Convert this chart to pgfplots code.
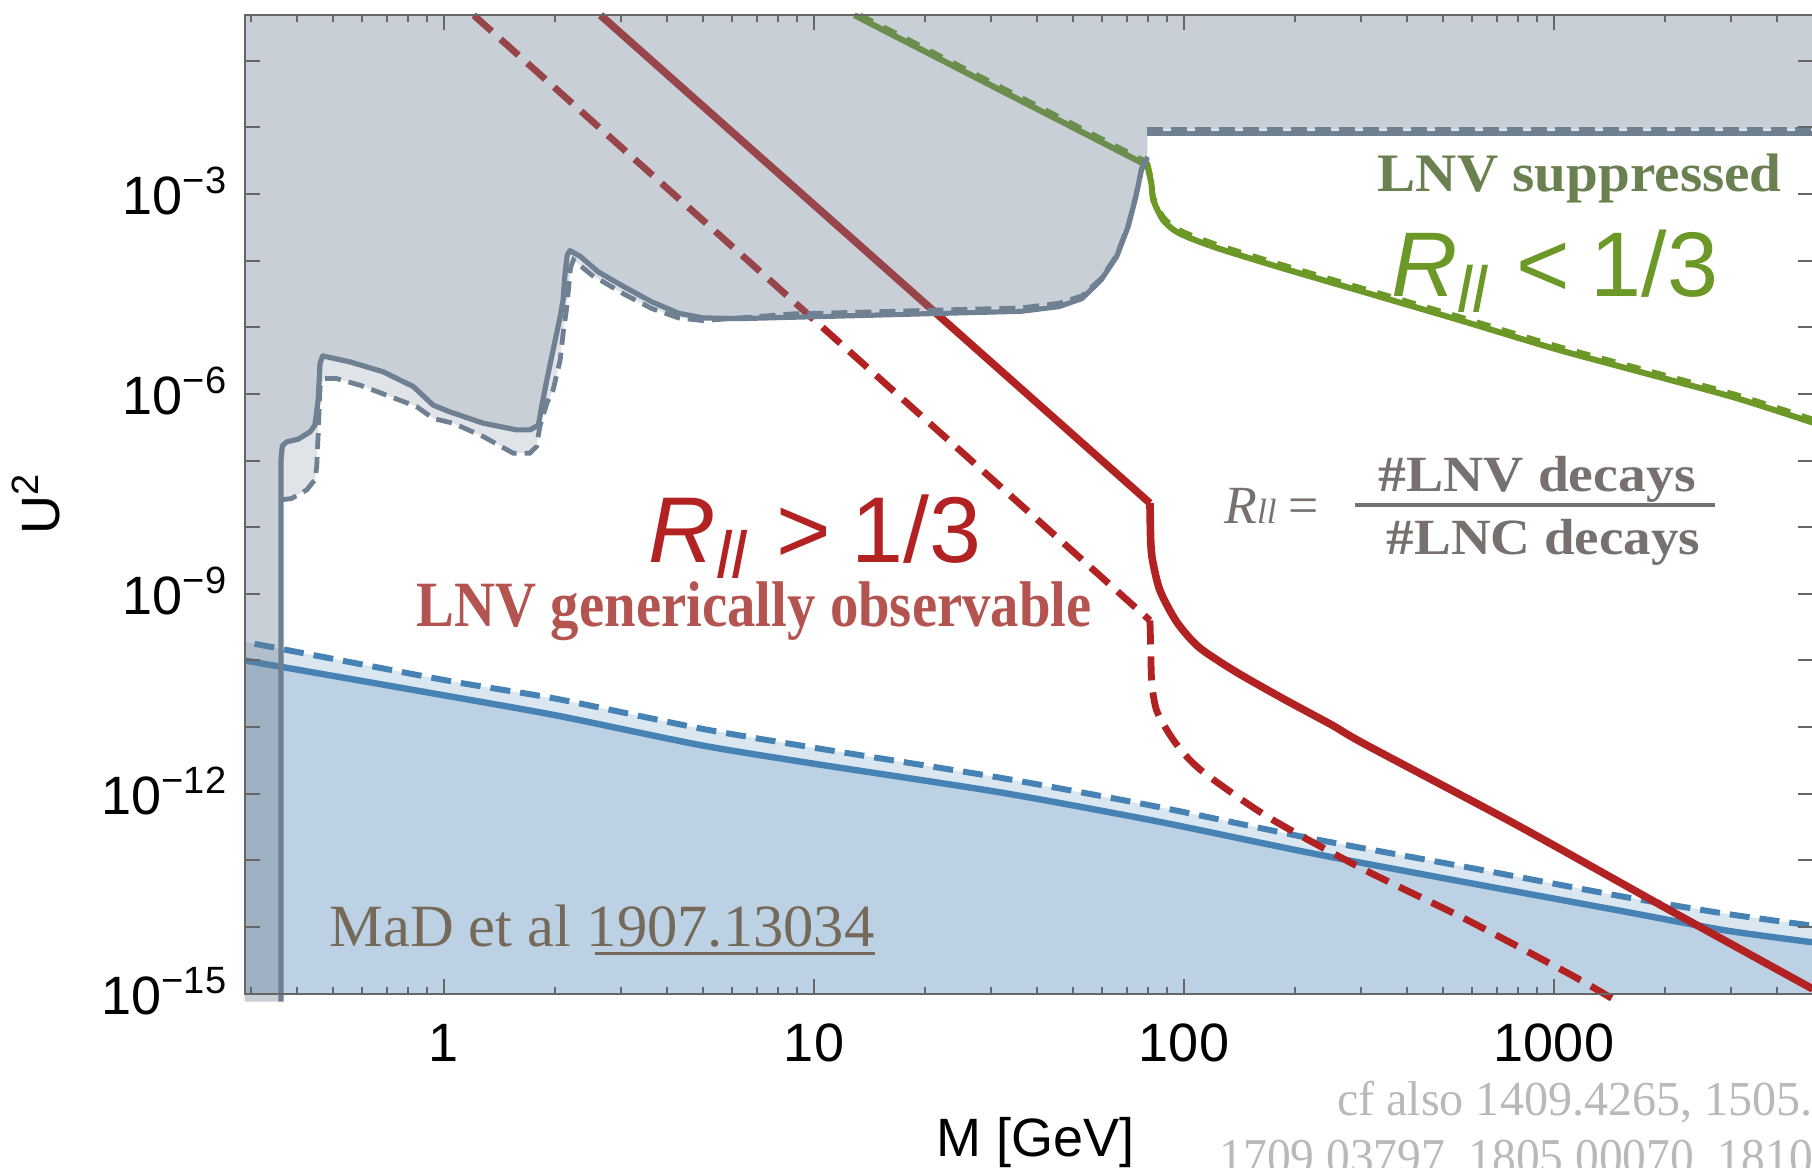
\documentclass[border=0pt]{standalone}
\usepackage{fontspec}
\setmainfont{Liberation Sans}
\newfontfamily\serif{Liberation Serif}
\usepackage{graphicx}
\usepackage{pgfplots}
\pgfplotsset{compat=1.18}

\definecolor{slate}{RGB}{110,128,146}
\definecolor{sblue}{RGB}{70,130,180}
\definecolor{fred}{RGB}{178,34,34}
\definecolor{lgreen}{RGB}{107,152,38}
\definecolor{olivetext}{RGB}{107,128,80}
\definecolor{lred}{RGB}{180,84,80}
\definecolor{fgray}{RGB}{118,112,110}
\definecolor{mgray}{RGB}{117,106,90}
\definecolor{cgray}{RGB}{185,185,185}

\newcommand\ylab[1]{10\raisebox{5.3pt}{\fontsize{9.5}{9.5}\selectfont −#1}}

\begin{document}
\begin{tikzpicture}
\begin{axis}[
  scale only axis, width=392pt, height=244.6pt,
  xmode=log, ymode=log,
  xmin=0.2891, xmax=5000, ymin=1e-15, ymax=0.4819,
  clip=false, axis on top,
  axis line style={draw=black!60, line width=0.5pt},
  tick style={draw=black!60, line width=0.5pt},
  tick align=inside,
  xtick pos=both, ytick pos=both,
  xticklabel pos=lower, yticklabel pos=left,
  major tick length=3.75pt, minor tick length=1.75pt,
  yminorticks=false,
  xtick={1,10,100,1000},
  xticklabels={1,10,100,1000},
  minor xtick={0.3,0.4,0.5,0.6,0.7,0.8,0.9,2,3,4,5,6,7,8,9,20,30,40,50,60,70,80,90,200,300,400,500,600,700,800,900,2000,3000,4000},
  ytick={1e-15,1e-14,1e-13,1e-12,1e-11,1e-10,1e-9,1e-8,1e-7,1e-6,1e-5,1e-4,1e-3,1e-2,1e-1},
  yticklabels={\ylab{15},{},{},\ylab{12},{},{},\ylab{9},{},{},\ylab{6},{},{},\ylab{3},{},{}},
  xticklabel style={anchor=base, yshift=-17pt, inner sep=0pt, font=\fontsize{13.5}{13.5}\selectfont},
  yticklabel style={anchor=base east, inner sep=0pt, xshift=-4.4pt, yshift=-5.2pt, font=\fontsize{13.5}{13.5}\selectfont},
]
% ---- blue region (dashed bound) ----
\addplot[draw=none, fill=sblue, fill opacity=0.2] coordinates {
(0.2891,1e-15) (0.2891,1.905e-10) (0.3076,1.778e-10) (1.015,5.012e-11) (2.032,2.630e-11) (4.920,9.550e-12) (10,4.898e-12) (31.84,1.738e-12) (83.75,6.457e-13) (219.8,2.138e-13) (578.1,7.943e-14) (1521,2.884e-14) (2897,1.585e-14) (5000,1.047e-14) (5000,1e-15)};
% ---- blue region (solid bound) ----
\addplot[draw=none, fill=sblue, fill opacity=0.2] coordinates {
(0.2891,1e-15) (0.2891,1.0e-10) (1.015,2.951e-11) (2.032,1.479e-11) (4.920,5.370e-12) (10,2.818e-12) (31.84,1.047e-12) (83.75,3.890e-13) (219.8,1.288e-13) (578.1,4.677e-14) (1521,1.738e-14) (2897,8.913e-15) (5000,5.888e-15) (5000,1e-15)};
\addplot[sblue, line width=1.5pt, dash pattern=on 5pt off 2.5pt, smooth, tension=0.4] coordinates {
(0.3076,1.778e-10) (1.015,5.012e-11) (2.032,2.630e-11) (4.920,9.550e-12) (10,4.898e-12) (31.84,1.738e-12) (83.75,6.457e-13) (219.8,2.138e-13) (578.1,7.943e-14) (1521,2.884e-14) (2897,1.585e-14) (5000,1.047e-14)};
\addplot[sblue, line width=1.6pt, smooth, tension=0.4] coordinates {
(0.2891,1.0e-10) (1.015,2.951e-11) (2.032,1.479e-11) (4.920,5.370e-12) (10,2.818e-12) (31.84,1.047e-12) (83.75,3.890e-13) (219.8,1.288e-13) (578.1,4.677e-14) (1521,1.738e-14) (2897,8.913e-15) (5000,5.888e-15)};
% ---- red lines ----
\addplot[fred, line width=1.7pt, dash pattern=on 6pt off 3pt] coordinates {
(1.2036,0.4819) (80.91,3.981e-10)};
\addplot[fred, line width=1.7pt, dash pattern=on 6pt off 3pt, smooth, tension=0.45] coordinates {
(80.91,3.981e-10) (81.28,1.585e-10) (81.85,4.467e-11) (84.33,1.778e-11) (91.20,7.943e-12) (100,3.981e-12) (114.82,1.950e-12) (169.82,4.365e-13) (301.99,7.586e-14) (575.44,1.318e-14) (1096.5,1.995e-15) (1472.3,7.762e-16)};
\addplot[fred, line width=1.9pt] coordinates {
(2.6485,0.4819) (80.91,2.291e-8)};
\addplot[fred, line width=1.9pt, smooth, tension=0.45] coordinates {
(80.91,2.291e-8) (81.28,6.310e-9) (82.22,3.162e-9) (86.10,1.122e-9) (95.50,3.802e-10) (109.65,1.585e-10) (138.04,6.761e-11) (186.21,2.630e-11) (251.19,1.072e-11) (309.03,5.495e-12) (794.33,3.388e-13) (2089.3,1.698e-14) (5000,1.175e-15)};
% ---- green lines ----
\addplot[lgreen, line width=1.5pt] coordinates {
(12.853,0.4819) (79.6,2.667e-3)};
\addplot[lgreen, line width=1.5pt, smooth, tension=0.45] coordinates {
(79.6,2.667e-3) (81.66,1.413e-3) (82.60,8.128e-4) (87.50,4.169e-4) (94.41,2.818e-4) (104.71,2.138e-4) (125.89,1.479e-4) (183.65,7.762e-5) (323.59,3.090e-5) (568.85,1.230e-5) (1000,4.786e-6) (1762,2.042e-6) (3097.5,8.710e-7) (5000,3.715e-7)};
\addplot[lgreen, line width=1.3pt, dash pattern=on 3.5pt off 3pt] coordinates {
(13.34,0.4819) (79.6,2.987e-3)};
\addplot[lgreen, line width=1.3pt, dash pattern=on 3.5pt off 3pt, smooth, tension=0.45] coordinates {
(79.6,2.987e-3) (81.66,1.583e-3) (82.60,9.103e-4) (87.50,4.669e-4) (94.41,3.156e-4) (104.71,2.395e-4) (125.89,1.656e-4) (183.65,8.693e-5) (323.59,3.461e-5) (568.85,1.378e-5) (1000,5.360e-6) (1762,2.287e-6) (3097.5,9.755e-7) (5000,4.161e-7)};
% ---- gray excluded region (dashed bound) ----
\addplot[draw=none, fill=slate, fill opacity=0.21] coordinates {
(0.2891,7.586e-16) (0.3626,7.586e-16) (0.3626,2.570e-8) (0.3873,2.692e-8) (0.4256,3.631e-8) (0.4477,5.129e-8) (0.4529,8.128e-8) (0.4571,2.570e-7) (0.4624,1.288e-6) (0.4764,1.698e-6) (0.5129,1.698e-6) (0.5929,1.349e-6) (0.6998,9.550e-7) (0.8433,6.457e-7) (0.9354,4.266e-7) (1.0593,3.631e-7) (1.2764,2.291e-7) (1.5382,1.288e-7) (1.7061,1.288e-7) (1.7783,1.622e-7) (1.8155,3.236e-7) (1.8967,7.244e-7) (1.9724,1.148e-6) (2.0606,3.236e-6) (2.0989,8.128e-6) (2.1478,2.042e-5) (2.1979,7.943e-5) (2.2387,1.023e-4) (2.5119,6.026e-5) (3.0832,3.090e-5) (3.6475,1.905e-5) (4.3053,1.380e-5) (5.0119,1.259e-5) (6.3096,1.380e-5) (8.7096,1.585e-5) (14.125,1.698e-5) (22.387,1.820e-5) (36.308,1.950e-5) (45.920,2.291e-5) (52.966,2.951e-5) (59.704,5.370e-5) (65.766,1.202e-4) (70.632,3.388e-4) (74.131,9.550e-4) (76.736,2.399e-3) (79.616,3.631e-3) (79.616,9.4e-3) (5000,9.4e-3) (5000,0.4819) (0.2891,0.4819)};
% ---- gray excluded region (solid bound) ----
\addplot[draw=none, fill=slate, fill opacity=0.21] coordinates {
(0.2891,7.586e-16) (0.3626,7.586e-16) (0.3626,1e-7) (0.3656,1.660e-7) (0.3758,1.905e-7) (0.4036,2.089e-7) (0.4345,2.692e-7) (0.4477,3.388e-7) (0.4571,8.128e-7) (0.4624,2.884e-6) (0.4699,3.715e-6) (0.5572,3.020e-6) (0.6855,2.138e-6) (0.8260,1.288e-6) (0.9354,6.761e-7) (1.0375,5.370e-7) (1.2764,3.631e-7) (1.5704,2.884e-7) (1.7061,2.884e-7) (1.7989,3.388e-7) (1.8365,6.457e-7) (1.8967,1.622e-6) (1.9724,4.571e-6) (2.0606,1.445e-5) (2.0989,2.570e-5) (2.1232,6.310e-5) (2.1528,1.202e-4) (2.1878,1.413e-4) (2.3388,1.148e-4) (2.6122,6.761e-5) (3.0832,3.981e-5) (3.6475,2.399e-5) (4.3053,1.622e-5) (5.0119,1.380e-5) (6.3096,1.349e-5) (8.7096,1.413e-5) (14.125,1.514e-5) (22.387,1.622e-5) (36.308,1.738e-5) (45.920,2.042e-5) (52.966,2.692e-5) (59.704,5.129e-5) (65.766,1.148e-4) (70.632,3.236e-4) (74.131,9.120e-4) (76.736,2.291e-3) (79.616,3.467e-3) (79.616,8.1e-3) (5000,8.1e-3) (5000,0.4819) (0.2891,0.4819)};
% ---- gray lines ----
\addplot[slate, line width=1.2pt, dash pattern=on 4pt off 2pt] coordinates {
(0.3626,2.570e-8) (0.3873,2.692e-8) (0.4256,3.631e-8) (0.4477,5.129e-8) (0.4529,8.128e-8) (0.4571,2.570e-7) (0.4624,1.288e-6) (0.4764,1.698e-6) (0.5129,1.698e-6) (0.5929,1.349e-6) (0.6998,9.550e-7) (0.8433,6.457e-7) (0.9354,4.266e-7) (1.0593,3.631e-7) (1.2764,2.291e-7) (1.5382,1.288e-7) (1.7061,1.288e-7) (1.7783,1.622e-7) (1.8155,3.236e-7) (1.8967,7.244e-7) (1.9724,1.148e-6) (2.0606,3.236e-6) (2.0989,8.128e-6) (2.1478,2.042e-5) (2.1979,7.943e-5) (2.2387,1.023e-4) (2.5119,6.026e-5) (3.0832,3.090e-5) (3.6475,1.905e-5) (4.3053,1.380e-5) (5.0119,1.259e-5) (6.3096,1.380e-5) (8.7096,1.585e-5) (14.125,1.698e-5) (22.387,1.820e-5) (36.308,1.950e-5) (45.920,2.291e-5) (52.966,2.951e-5) (59.704,5.370e-5) (65.766,1.202e-4) (70.632,3.388e-4) (74.131,9.550e-4) (76.736,2.399e-3) (79.616,3.631e-3)};
\addplot[slate, line width=1.2pt, dash pattern=on 4pt off 2pt] coordinates {(79.616,9.4e-3) (5000,9.4e-3)};
\addplot[slate, line width=1.3pt, line join=round] coordinates {
(0.3626,7.586e-16) (0.3626,1e-7) (0.3656,1.660e-7) (0.3758,1.905e-7) (0.4036,2.089e-7) (0.4345,2.692e-7) (0.4477,3.388e-7) (0.4571,8.128e-7) (0.4624,2.884e-6) (0.4699,3.715e-6) (0.5572,3.020e-6) (0.6855,2.138e-6) (0.8260,1.288e-6) (0.9354,6.761e-7) (1.0375,5.370e-7) (1.2764,3.631e-7) (1.5704,2.884e-7) (1.7061,2.884e-7) (1.7989,3.388e-7) (1.8365,6.457e-7) (1.8967,1.622e-6) (1.9724,4.571e-6) (2.0606,1.445e-5) (2.0989,2.570e-5) (2.1232,6.310e-5) (2.1528,1.202e-4) (2.1878,1.413e-4) (2.3388,1.148e-4) (2.6122,6.761e-5) (3.0832,3.981e-5) (3.6475,2.399e-5) (4.3053,1.622e-5) (5.0119,1.380e-5) (6.3096,1.349e-5) (8.7096,1.413e-5) (14.125,1.514e-5) (22.387,1.622e-5) (36.308,1.738e-5) (45.920,2.042e-5) (52.966,2.692e-5) (59.704,5.129e-5) (65.766,1.148e-4) (70.632,3.236e-4) (74.131,9.120e-4) (76.736,2.291e-3) (79.616,3.467e-3)};
\addplot[slate, line width=1.3pt] coordinates {(79.616,8.1e-3) (5000,8.1e-3)};
\end{axis}

% ---- annotations ----
\node[anchor=base west, inner sep=0pt, text=fred] at (100.85pt,107.7pt)
  {\resizebox{83.2pt}{!}{\fontsize{22.5}{24}\selectfont\textit{R}\raisebox{-3.8pt}{\fontsize{16}{16}\selectfont\textit{ll}}\hspace{7pt}>\hspace{5pt}1/3}};
\node[anchor=base west, inner sep=0pt, text=lred] at (42.85pt,91.7pt)
  {\resizebox{168.75pt}{11.2pt}{\serif\bfseries LNV generically observable}};
\node[anchor=base west, inner sep=0pt, text=olivetext] at (283.1pt,200.55pt)
  {\resizebox{101pt}{9.4pt}{\serif\bfseries LNV suppressed}};
\node[anchor=base west, inner sep=0pt, text=lgreen] at (286.5pt,174.25pt)
  {\resizebox{81.75pt}{!}{\fontsize{22.5}{24}\selectfont\textit{R}\raisebox{-3.8pt}{\fontsize{16}{16}\selectfont\textit{ll}}\hspace{7pt}<\hspace{5pt}1/3}};
\node[anchor=base west, inner sep=0pt, text=fgray] at (244.7pt,117.4pt)
  {\resizebox{23.75pt}{!}{\serif\fontsize{13}{13}\selectfont\textit{R}{\fontsize{8.5}{8.5}\selectfont\textit{ll}}\hspace{3pt}=}};
\draw[fgray, line width=1pt] (277.6pt,122.1pt) -- (367.7pt,122.1pt);
\node[anchor=base west, inner sep=0pt, text=fgray] at (283.35pt,125.45pt)
  {\resizebox{79.25pt}{8.8pt}{\serif\bfseries\#LNV decays}};
\node[anchor=base west, inner sep=0pt, text=fgray] at (285.35pt,109.65pt)
  {\resizebox{78.4pt}{8.8pt}{\serif\bfseries\#LNC decays}};
\node[anchor=base west, inner sep=0pt, text=mgray] at (21.0pt,11.7pt)
  {\resizebox{136.3pt}{10.4pt}{\serif MaD et al 1907.13034}};
\draw[mgray, line width=0.7pt] (87.5pt,10.1pt) -- (157.55pt,10.1pt);
\node[anchor=base west, inner sep=0pt, text=cgray] at (272.9pt,-30.35pt)
  {\resizebox{119pt}{8.6pt}{\serif cf also 1409.4265, 1505.}};
\node[anchor=base west, inner sep=0pt, text=cgray] at (243.55pt,-45.3pt)
  {\resizebox{148.3pt}{8.6pt}{\serif 1709.03797, 1805.00070, 1810}};
\node[anchor=base, inner sep=0pt] at (197.65pt,-40.8pt)
  {\fontsize{13.5}{13.5}\selectfont M [GeV]};
\node[anchor=base, inner sep=0pt, rotate=90] at (-46.15pt,122.4pt)
  {\fontsize{13.5}{13.5}\selectfont U\raisebox{5.3pt}{\fontsize{9.5}{9.5}\selectfont 2}};

\pgfresetboundingbox
\useasboundingbox (-61.15pt,-43.6pt) rectangle (391.85pt,248.4pt);
\end{tikzpicture}
\end{document}
